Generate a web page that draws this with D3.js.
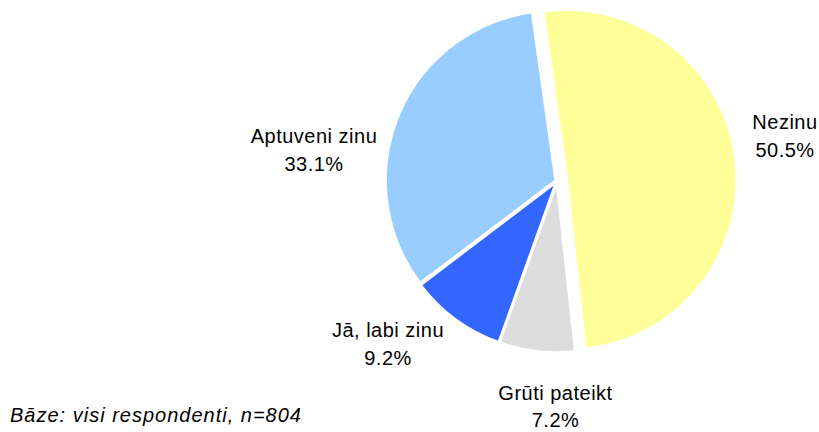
<!DOCTYPE html>
<html>
<head>
<meta charset="utf-8">
<script src="https://cdn.jsdelivr.net/npm/d3@7"></script>
<style>
  body { margin: 0; background: #fff; }
  svg { display: block; }
  text { font-family: "Liberation Sans", Arial, sans-serif; fill: #000; }
</style>
</head>
<body>
<div id="main"></div>
<script>
var categories = ["Nezinu", "Grūti pateikt", "Jā, labi zinu", "Aptuveni zinu"];
var values = [50.5, 7.2, 9.2, 33.1];
var colors = ["#FFFF99", "#DDDDDD", "#3366FF", "#99CCFF"];
var footnote = "Bāze: visi respondenti, n=804";

var width = 819,
    height = 432;

// pie geometry
var cx = 557, cy = 181, radius = 170;
var startAngle = -8 * Math.PI / 180;
var explode = [10, 1.5, 1.5, 1.5];

// label anchors, relative to the pie centre (first line baseline)
var labelOffsets = [[228, -52], [-1.5, 219], [-169, 156], [-243, -38]];
var lineGap = 28;

var svg = d3.select("#main")
    .append("svg")
    .attr("width", width)
    .attr("height", height);

var pie = d3.pie()
    .sort(null)
    .value(function(d) { return d; })
    .startAngle(startAngle)
    .endAngle(startAngle + 2 * Math.PI);

var arc = d3.arc()
    .innerRadius(0)
    .outerRadius(radius);

var arcs = pie(values);

var g = svg.append("g")
    .attr("transform", "translate(" + cx + "," + cy + ")");

g.selectAll("path.slice")
    .data(arcs)
    .enter()
    .append("path")
    .attr("class", "slice")
    .attr("d", arc)
    .attr("fill", function(d, i) { return colors[i]; })
    .attr("stroke", "#fff")
    .attr("stroke-width", 2.5)
    .attr("stroke-linejoin", "round")
    .attr("transform", function(d, i) {
        var mid = (d.startAngle + d.endAngle) / 2;
        return "translate(" + (Math.sin(mid) * explode[i]) + "," + (-Math.cos(mid) * explode[i]) + ")";
    });

// data labels
var labels = g.selectAll("text.label")
    .data(arcs)
    .enter()
    .append("text")
    .attr("class", "label")
    .attr("text-anchor", "middle")
    .style("font-size", "20px")
    .style("letter-spacing", "0.5px")
    .attr("x", function(d, i) { return labelOffsets[i][0]; })
    .attr("y", function(d, i) { return labelOffsets[i][1]; });

labels.append("tspan")
    .attr("x", function(d, i) { return labelOffsets[i][0]; })
    .text(function(d, i) { return categories[i]; });

labels.append("tspan")
    .attr("x", function(d, i) { return labelOffsets[i][0]; })
    .attr("dy", function(d, i) { return i === 1 ? lineGap - 1 : lineGap; })
    .text(function(d) { return d3.format(".1f")(d.value) + "%"; });

svg.append("text")
    .attr("x", 10)
    .attr("y", 422)
    .style("font-size", "20px")
    .style("font-style", "italic")
    .style("letter-spacing", "1px")
    .text(footnote);
</script>
</body>
</html>
